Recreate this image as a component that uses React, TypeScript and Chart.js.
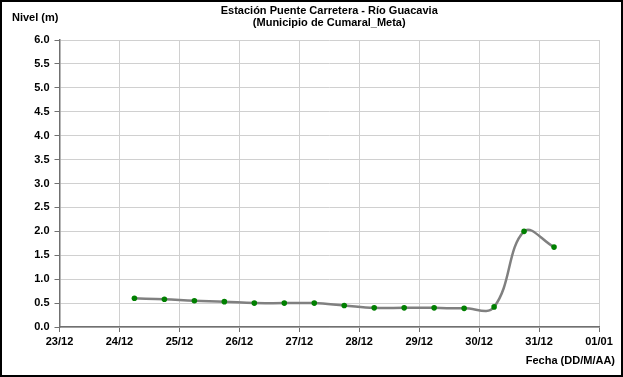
import React, { useEffect, useRef } from "react";
import { Chart, registerables } from "chart.js";

Chart.register(...registerables);

const chartTitle = ["Estación Puente Carretera - Río Guacavia", "(Municipio de Cumaral_Meta)"];
const yAxisLabel = "Nivel (m)";
const xAxisLabel = "Fecha (DD/M/AA)";
const tickLabels = ["23/12", "24/12", "25/12", "26/12", "27/12", "28/12", "29/12", "30/12", "31/12", "01/01"];
const yTicks = [0, 0.5, 1, 1.5, 2, 2.5, 3, 3.5, 4, 4.5, 5, 5.5, 6];
const dates = [
  "24/12 06:00", "24/12 18:00", "25/12 06:00", "25/12 18:00", "26/12 06:00",
  "26/12 18:00", "27/12 06:00", "27/12 18:00", "28/12 06:00", "28/12 18:00",
  "29/12 06:00", "29/12 18:00", "30/12 06:00", "30/12 18:00", "31/12 06:00",
];
const levels = [0.6, 0.58, 0.55, 0.53, 0.5, 0.5, 0.5, 0.45, 0.4, 0.4, 0.4, 0.39, 0.42, 2.0, 1.67];

function dayOffset(s: string): number {
  const [dm, hm] = s.split(" ");
  const [d, m] = dm.split("/").map(Number);
  const [h, mi] = hm.split(":").map(Number);
  const day = m === 12 ? d - 23 : d + 31 - 23;
  return day + (h + mi / 60) / 24;
}

const FONT = "'Liberation Sans', Arial, sans-serif";

const textPlugin = {
  id: "texts",
  afterDraw(chart: any) {
    const ctx = chart.ctx;
    const area = chart.chartArea;
    ctx.save();
    ctx.fillStyle = "#000";
    ctx.font = `bold 11px ${FONT}`;
    ctx.textBaseline = "middle";
    ctx.textAlign = "center";
    const cx = (area.left + area.right) / 2;
    ctx.fillText(chartTitle[0], cx, 9);
    ctx.fillText(chartTitle[1], cx, 21);
    ctx.textAlign = "left";
    ctx.fillText(yAxisLabel, 10, 16);
    ctx.textAlign = "right";
    ctx.fillText(xAxisLabel, chart.width - 6, 359);
    ctx.restore();
  },
};

export default function App() {
  const ref = useRef<HTMLCanvasElement>(null);
  useEffect(() => {
    document.body.style.margin = "0";
    const points = dates.map((d, i) => ({ x: dayOffset(d), y: levels[i] }));
    const chart = new Chart(ref.current!, {
      type: "line",
      data: {
        datasets: [
          {
            data: points,
            borderColor: "#808080",
            borderWidth: 2.5,
            tension: 0.4,
            pointRadius: 2.8,
            pointBackgroundColor: "#008000",
            pointBorderColor: "#008000",
            pointBorderWidth: 0,
          },
        ],
      },
      plugins: [textPlugin],
      options: {
        animation: false,
        responsive: false,
        maintainAspectRatio: false,
        layout: { padding: { top: 38, right: 22, left: 0, bottom: 0 } },
        plugins: { legend: { display: false }, title: { display: false }, tooltip: { enabled: false } },
        scales: {
          x: {
            type: "linear",
            min: 0,
            max: tickLabels.length - 1,
            afterBuildTicks(scale: any) {
              scale.ticks = tickLabels.map((_, i) => ({ value: i }));
            },
            afterFit(scale: any) {
              scale.height = 48;
            },
            ticks: {
              callback: (v: any) => tickLabels[Math.round(Number(v))],
              color: "#000",
              font: { family: FONT, size: 11, weight: "bold" },
              maxRotation: 0,
              autoSkip: false,
              padding: 3,
            },
            grid: { color: "#d0d0d0", lineWidth: 1, tickLength: 5, tickColor: "#707070" },
            border: { color: "#707070", width: 1.5 },
          },
          y: {
            min: 0,
            max: 6,
            afterBuildTicks(scale: any) {
              scale.ticks = yTicks.map((v) => ({ value: v }));
            },
            afterFit(scale: any) {
              scale.width = 57.5;
            },
            ticks: {
              callback: (v: any) => Number(v).toFixed(1),
              color: "#000",
              font: { family: FONT, size: 11, weight: "bold" },
              padding: 5,
            },
            grid: { color: "#d0d0d0", lineWidth: 1, tickLength: 5, tickColor: "#707070" },
            border: { color: "#707070", width: 1.5 },
          },
        },
      },
    });
    return () => chart.destroy();
  }, []);
  return (
    <div
      style={{
        position: "absolute",
        left: 0,
        top: 0,
        width: 623,
        height: 377,
        border: "2px solid #000",
        boxSizing: "border-box",
        background: "#fff",
      }}
    >
      <canvas ref={ref} width={619} height={373} style={{ display: "block" }} />
    </div>
  );
}
